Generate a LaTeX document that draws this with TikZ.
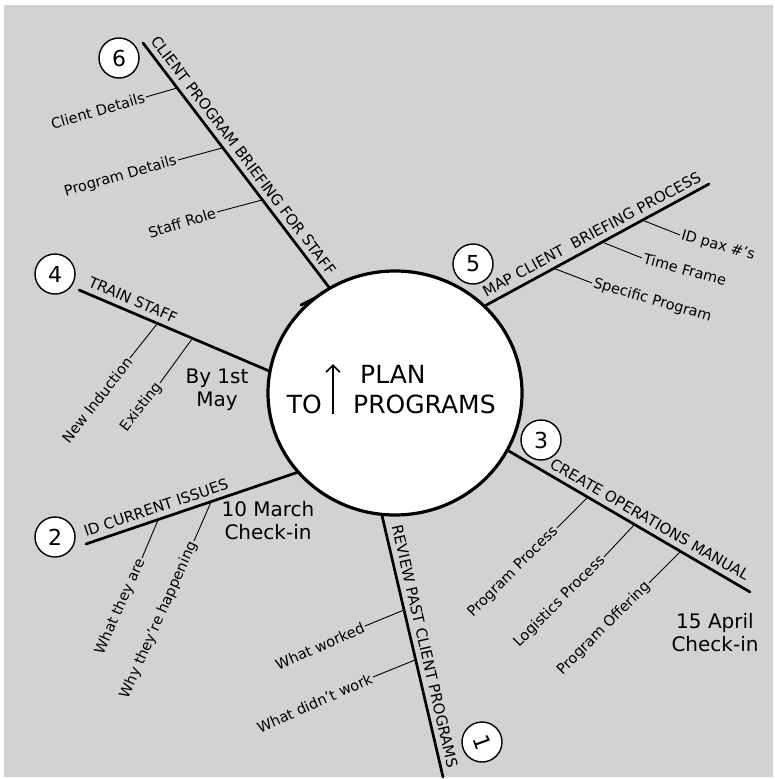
\documentclass[tikz,border=0pt]{standalone}
\usepackage{fontspec}
\setmainfont{DejaVu Sans}
\usetikzlibrary{shapes.geometric,arrows.meta,calc}
\definecolor{bg}{RGB}{209,210,212}
\begin{document}
\begin{tikzpicture}[x=1pt,y=-1pt,
  branch/.style={line width=2.7pt, line cap=round},
  subline/.style={line width=0.9pt},
  title/.style={font=\fontsize{15}{17}\selectfont, inner sep=0pt, anchor=center},
  sub/.style={font=\fontsize{14.5}{16}\selectfont, inner sep=1.5pt},
  num/.style={circle, draw, fill=white, line width=1.4pt, minimum size=40pt, inner sep=0pt, font=\fontsize{22}{24}\selectfont},
  note/.style={font=\fontsize{20}{23}\selectfont, align=center, inner sep=0pt},
  big/.style={font=\fontsize{25}{27}\selectfont, inner sep=0pt}
]
\fill[white] (0,0) rectangle (774,779);
\fill[bg] (4,5) rectangle (773,777);
\useasboundingbox (0,0) rectangle (774,779);

% hub
\node[ellipse, draw, fill=white, line width=3.2pt, minimum width=254pt, minimum height=244pt, inner sep=0pt] (hub) at (395,393) {};
\coordinate (t1) at (301,305);
\coordinate (t2) at (317,297);
\draw[line width=2.8pt, line cap=round] (t1) -- (t2);

% centre text
\node[big, anchor=base west] (plan) at (360,383) {PLAN};
\node[big, anchor=base west] (progs) at (353,413) {PROGRAMS};
\node[big, anchor=base east] (to) at (322,413) {TO};
\coordinate (ab) at (333,414);
\coordinate (at) at (333,364);
\draw[line width=1.6pt, -{Straight Barb[length=7pt,width=14pt]}] (ab) -- (at);

% outer ends
\coordinate (e6) at (143,43);
\coordinate (e5) at (709,184);
\coordinate (e4) at (79,290);
\coordinate (e3) at (750,592);
\coordinate (e2) at (86,544);
\coordinate (e1) at (443,777);

% branches
\draw[branch] (e6) -- (hub.122) coordinate[pos=0.49] (m6);
\draw[branch] (hub.44.7) -- (e5) coordinate[pos=0.5] (m5);
\draw[branch] (e4) -- (hub.170.6) coordinate[pos=0.26] (m4);
\draw[branch] (hub.-27.5) -- (e3) coordinate[pos=0.56] (m3);
\draw[branch] (e2) -- (hub.219.5) coordinate[pos=0.35] (m2);
\draw[branch] (hub.264.5) -- (e1) coordinate[pos=0.51] (m1);

\node[title, rotate=-52.8] (b6) at ($(m6)+(9.6,-7.3)$) {CLIENT PROGRAM BRIEFING FOR STAFF};
\node[title, rotate=28.3] (b5) at ($(m5)+(-5.7,-10.6)$) {MAP CLIENT \ BRIEFING PROCESS};
\node[title, rotate=-23.5] (b4) at ($(m4)+(4.8,-11.0)$) {TRAIN STAFF};
\node[title, rotate=-30.1] (b3) at ($(m3)+(6.0,-10.4)$) {CREATE OPERATIONS MANUAL};
\node[title, rotate=18.5] (b2) at ($(m2)+(-3.8,-11.4)$) {ID CURRENT ISSUES};
\node[title, rotate=-77] (b1) at ($(m1)+(11.7,-2.7)$) {REVIEW PAST CLIENT PROGRAMS};

% number circles
\node[num] (c6) at (119,58) {6};
\node[num] (c5) at (473,264) {5};
\node[num] (c4) at (55,274) {4};
\node[num] (c3) at (541,440) {3};
\node[num] (c2) at (55,537) {2};
\node[num] (c1) at (482,742) {\rotatebox{-70}{1}};

% sub-branches of 6
\coordinate (a61) at (177,88);
\coordinate (a62) at (222,148);
\coordinate (a63) at (262,200);
\node[sub, rotate=16, anchor=east] (l61) at (146,97) {Client Details};
\node[sub, rotate=16, anchor=east] (l62) at (178,160) {Program Details};
\node[sub, rotate=17, anchor=east] (l63) at (217,212) {Staff Role};
\draw[subline] (a61) -- (l61.east);
\draw[subline] (a62) -- (l62.east);
\draw[subline] (a63) -- (l63.east);

% sub-branches of 5
\coordinate (a51) at (642,220);
\coordinate (a52) at (602,242);
\coordinate (a53) at (553,268);
\node[sub, rotate=-16, anchor=west] (l51) at (680,235) {ID pax \#'s};
\node[sub, rotate=-15, anchor=west] (l52) at (642,258) {Time Frame};
\node[sub, rotate=-16, anchor=west] (l53) at (592,283) {Specific Program};
\draw[subline] (a51) -- (l51.west);
\draw[subline] (a52) -- (l52.west);
\draw[subline] (a53) -- (l53.west);

% sub-branches of 4
\coordinate (a41) at (157,324);
\coordinate (a42) at (192,339);
\node[sub, rotate=52, anchor=east] (l41) at (130,358) {New Induction};
\node[sub, rotate=52, anchor=east] (l42) at (160,383) {Existing};
\draw[subline] (a41) -- (l41.east);
\draw[subline] (a42) -- (l42.east);

% sub-branches of 3
\coordinate (a31) at (587,498);
\coordinate (a32) at (634,525);
\coordinate (a33) at (680,552);
\node[sub, rotate=45, anchor=east] (l31) at (557,528) {Program Process};
\node[sub, rotate=45, anchor=east] (l32) at (604,557) {Logistics Process};
\node[sub, rotate=45, anchor=east] (l33) at (649,583) {Program Offering};
\draw[subline] (a31) -- (l31.east);
\draw[subline] (a32) -- (l32.east);
\draw[subline] (a33) -- (l33.east);

% sub-branches of 2
\coordinate (a21) at (158,520);
\coordinate (a22) at (211,502);
\node[sub, rotate=66, anchor=east] (l21) at (142,558) {What they are};
\node[sub, rotate=66, anchor=east] (l22) at (194,541) {Why they're happening};
\draw[subline] (a21) -- (l21.east);
\draw[subline] (a22) -- (l22.east);

% sub-branches of 1
\coordinate (a11) at (404,610);
\coordinate (a12) at (415,660);
\node[sub, rotate=24, anchor=east] (l11) at (365,626) {What worked};
\node[sub, rotate=24, anchor=east] (l12) at (373,677) {What didn't work};
\draw[subline] (a11) -- (l11.east);
\draw[subline] (a12) -- (l12.east);

% notes
\node[note] (n4) at (217,390) {By 1st\\May};
\node[note] (n2) at (268,521) {10 March\\Check-in};
\node[note] (n3) at (715,633) {15 April\\Check-in};
\end{tikzpicture}
\end{document}
